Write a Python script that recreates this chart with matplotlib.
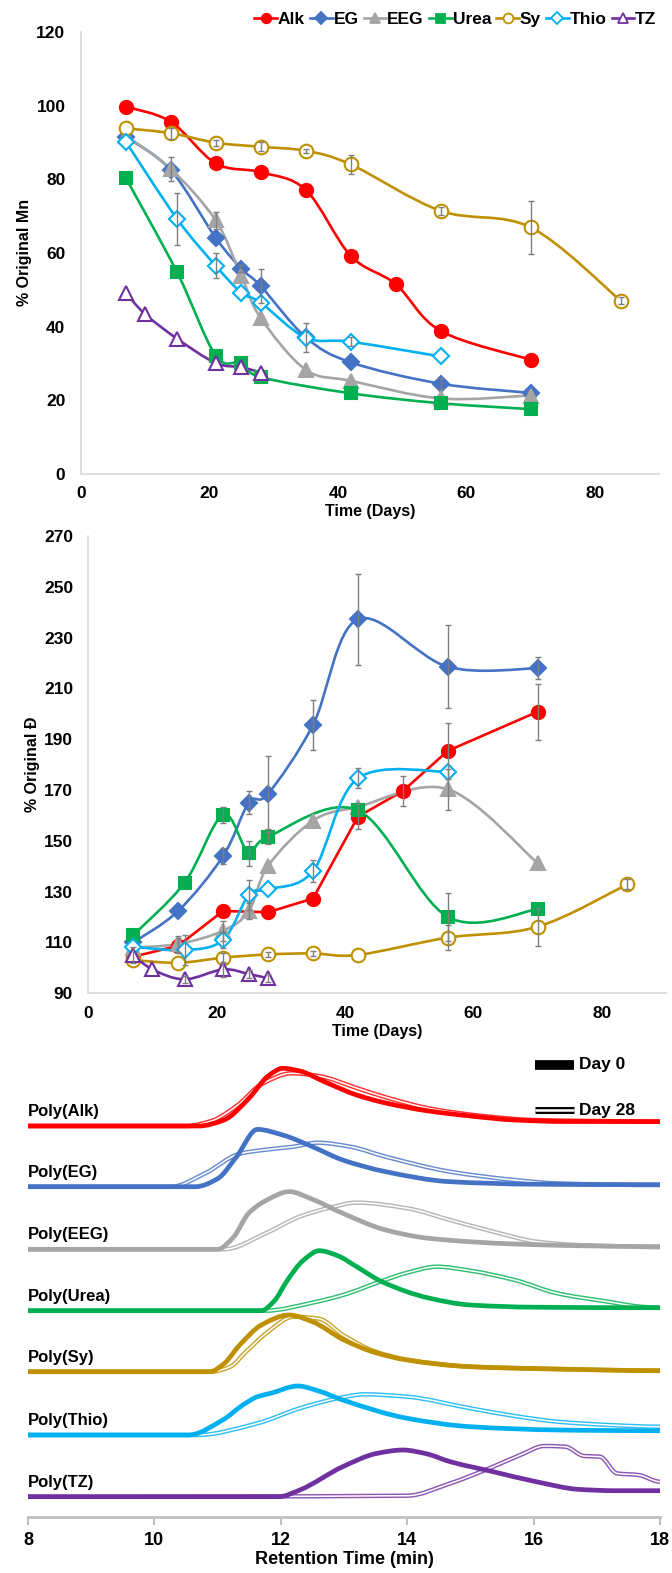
import matplotlib; matplotlib.use('Agg')
import matplotlib.pyplot as plt
from matplotlib.path import Path
from matplotlib.patches import PathPatch
from matplotlib.lines import Line2D
import numpy as np

plt.rcParams['font.family'] = ['Liberation Sans', 'DejaVu Sans']
plt.rcParams['font.weight'] = 'bold'

W, H = 672, 1573
NAMES  = ['Alk', 'EG', 'EEG', 'Urea', 'Sy', 'Thio', 'TZ']
COLORS = {'Alk':'#FF0000','EG':'#4472C4','EEG':'#A5A5A5','Urea':'#00B050',
          'Sy':'#BF9000','Thio':'#00B0F0','TZ':'#7030A0'}
# marker, size, filled
MARKERS = {'Alk':('o',9.5,True),'EG':('D',8,True),'EEG':('^',9.5,True),'Urea':('s',9,True),
           'Sy':('o',9.8,False),'Thio':('D',8,False),'TZ':('^',10,False)}

# ---- top panel: % original Mn ----
mn_days = {'Alk':[7,14,21,28,35,42,49,56,70], 'EG':[7,14,21,25,28,35,42,56,70],
           'EEG':[7,14,21,25,28,35,42,56,70], 'Urea':[7,15,21,25,28,42,56,70],
           'Sy':[7,14,21,28,35,42,56,70,84], 'Thio':[7,15,21,25,28,35,42,56],
           'TZ':[7,10,15,21,25,28]}
mn_vals = {'Alk':[99.7,95.6,84.3,81.9,77.1,59.2,51.5,38.8,31.0],
           'EG':[91.5,82.5,64.1,55.7,51.0,37.1,30.3,24.5,22.0],
           'EEG':[91.8,82.8,68.8,53.6,42.3,28.3,25.3,20.5,21.3],
           'Urea':[80.4,54.7,32.1,30.2,26.3,21.9,19.2,17.6],
           'Sy':[93.8,92.5,89.9,88.8,87.7,84.0,71.4,66.9,47.0],
           'Thio':[90.2,69.2,56.5,49.2,46.5,37.0,35.9,31.9],
           'TZ':[49.2,43.4,36.7,30.1,29.0,27.5]}
mn_err = {'Alk':[0]*9, 'EG':[0,0,0,1,4.7,0,0,1.5,0], 'EEG':[0,3.2,2.2,0,0,0,0,0,0],
          'Urea':[0]*8, 'Sy':[0,1.5,0.8,1.2,0.5,2.5,1,7.3,1],
          'Thio':[0,7.1,3.4,0,0,3.9,1.2,0], 'TZ':[0]*6}

# ---- middle panel: % original dispersity ----
d_days = {'Alk':[7,14,21,28,35,42,49,56,70], 'EG':[7,14,21,25,28,35,42,56,70],
          'EEG':[7,14,21,25,28,35,42,56,70], 'Urea':[7,15,21,25,28,42,56,70],
          'Sy':[7,14,21,28,35,42,56,70,84], 'Thio':[7,15,21,25,28,35,42,56],
          'TZ':[7,10,15,21,25,28]}
d_vals = {'Alk':[104.4,108.7,122.4,121.9,127.3,159.5,169.6,185.4,200.8],
          'EG':[110,122.4,144.0,165.0,168.5,195.6,237.2,218.5,217.9],
          'EEG':[108,109.4,114.6,122.4,140.1,157.9,163.4,170.3,141.2],
          'Urea':[112.9,133.5,160.2,145.1,151.6,162.0,120.1,123.1],
          'Sy':[103.1,102.0,104.0,105.3,105.7,105.1,111.9,116.2,132.9],
          'Thio':[108.3,107.0,111.0,128.7,130.9,138.1,174.6,177.2],
          'TZ':[105.1,99.4,95.5,99.4,97.6,95.9]}
d_err = {'Alk':[0,3,0,0,0,5,6,11,11], 'EG':[0,0,3,4.5,15,10,18,16.3,4.3],
         'EEG':[0,3,4,3,0,0,0,8,0], 'Urea':[0,0,3,5,3,0,9.5,0],
         'Sy':[0,0,2,1,1,0,5,7.5,2], 'Thio':[0,6,3,6,0,4.4,4,0],
         'TZ':[3,0,1.5,3,1.5,1.5]}
d_straight = ['Alk']

# ---- bottom panel: GPC traces (retention time, height above baseline) ----
POLY = ['Poly(Alk)','Poly(EG)','Poly(EEG)','Poly(Urea)','Poly(Sy)','Poly(Thio)','Poly(TZ)']
base_px = [1126, 1186.7, 1249.3, 1310.7, 1371.7, 1435, 1496.7]
d0_t = {'Alk':[8,10.7,11.1,11.5,11.8,12.03,12.3,12.7,13.2,13.66,14.34,15.0,15.7,16.5,17.3,18],
        'EG':[8,10.65,11.0,11.3,11.63,12.03,12.5,12.98,13.66,14.68,16.0,18],
        'EEG':[8,11.0,11.25,11.49,11.8,12.13,12.5,12.98,13.66,14.34,15.7,16.8,18],
        'Urea':[8,11.69,11.9,12.1,12.35,12.61,12.9,13.2,13.6,14.34,15.0,16.0,18],
        'Sy':[8,10.88,11.1,11.35,11.7,12.13,12.5,13.0,13.5,14.0,15.0,16.5,18],
        'Thio':[8,10.54,11.08,11.4,11.63,11.84,12.27,12.6,12.98,14.0,15.0,16.38,17.2,18],
        'TZ':[8,11.97,12.3,12.98,13.52,13.93,14.3,14.68,15.36,16.04,16.72,17.3,18]}
d0_h = {'Alk':[0,0,6,28,50,57.7,55,44,31,23,15,10,6,4.5,4.5,4.3],
        'EG':[0,0,8,30,57.3,51.7,40,26.7,15,5,2.5,2],
        'EEG':[0,0,12,36,50,57.7,50,36,19.3,11,5.3,3.5,2.7],
        'Urea':[0,0,10,30,50,60,55,44,29,12.7,5.7,3.5,3],
        'Sy':[0,0,8,26.7,47,56.7,50,31.7,19,11.7,5,2.5,1],
        'Thio':[0,0,15,30,38.3,41.7,49,44,35,16.7,8.3,5,4.5,4.3],
        'TZ':[0,0,6.7,30,43.3,46.7,43,35,25,15,7.3,6,6]}
d28_t = {'Alk':[8,10.5,10.9,11.3,11.7,12.17,12.6,13.2,13.7,14.4,15.2,16.0,17.0,18],
         'EG':[8,10.27,10.8,11.35,11.76,12.2,12.58,13.1,13.66,14.68,15.7,16.38,18],
         'EEG':[8,11.1,11.76,12.3,12.8,13.2,14.0,14.68,15.36,16.04,16.7,17.4,18],
         'Urea':[8,11.76,12.5,13.0,13.6,14.0,14.47,15.0,15.7,16.38,17.18,17.7,18],
         'Sy':[8,10.9,11.2,11.45,11.8,12.2,12.6,13.0,13.5,14.0,15.0,16.5,18],
         'Thio':[8,10.68,11.63,12.3,12.98,13.32,14.0,15.0,15.7,16.38,17.2,18],
         'TZ':[8,14.0,14.68,15.36,15.8,16.17,16.5,16.8,17.05,17.32,17.66,18]}
d28_h = {'Alk':[0,0,5,20,42,52.7,50,38,28,17,10,6,5,4.5],
         'EG':[0,0,13.3,33,37,40,44,40,30,15,6.7,3.3,1.7],
         'EEG':[0,0,16,32.7,42,46.7,41,29.3,17.7,7.7,4.3,3,2],
         'Urea':[0,0,8,16,29.7,38,44,40,30.7,17.3,9,4,3],
         'Sy':[0,0,5,20,40,55,53,36,20,12,5,2.5,1],
         'Thio':[0,0,11.7,26.7,37.7,40.7,38.3,26.7,19,13.3,10,8.3],
         'TZ':[0,1,13.3,30,42,50.7,50,40.7,40,23.3,21.7,15]}


def ax_rect(x0, x1, ytop, ybot):
    return [x0/W, 1-ybot/H, (x1-x0)/W, (ybot-ytop)/H]


def smooth_path(x, y):
    """Bezier path through the points (Excel-style smoothed line)."""
    p = np.column_stack([x, y]).astype(float)
    n = len(p)
    verts, codes = [p[0]], [Path.MOVETO]
    for i in range(n-1):
        p0 = p[i-1] if i > 0 else p[i]
        p3 = p[i+2] if i+2 < n else p[i+1]
        verts += [p[i] + (p[i+1]-p0)/6, p[i+1] - (p3-p[i])/6, p[i+1]]
        codes += [Path.CURVE4]*3
    return Path(verts, codes)


def trace_path(x, y):
    """Monotone cubic (pchip-type slopes) drawn as Bezier segments."""
    x = np.asarray(x, float); y = np.asarray(y, float)
    h = np.diff(x); d = np.diff(y)/h
    m = np.zeros(len(x))
    for i in range(1, len(x)-1):
        if d[i-1]*d[i] > 0:
            w1, w2 = 2*h[i]+h[i-1], h[i]+2*h[i-1]
            m[i] = (w1+w2)/(w1/d[i-1] + w2/d[i])
    verts, codes = [(x[0], y[0])], [Path.MOVETO]
    for i in range(len(x)-1):
        verts += [(x[i]+h[i]/3, y[i]+m[i]*h[i]/3),
                  (x[i+1]-h[i]/3, y[i+1]-m[i+1]*h[i]/3),
                  (x[i+1], y[i+1])]
        codes += [Path.CURVE4]*3
    return Path(verts, codes)


def style_time_axis(ax, ymin, ymax, ystep):
    ax.set_xlim(0, 90)
    ax.set_ylim(ymin, ymax)
    ax.set_xticks(range(0, 81, 20))
    ax.set_yticks(range(ymin, ymax+1, ystep))
    for s in ['top', 'right']:
        ax.spines[s].set_visible(False)
    for s in ['left', 'bottom']:
        ax.spines[s].set_color('#d9d9d9'); ax.spines[s].set_linewidth(1.2)
    ax.tick_params(length=0, labelsize=12.5)
    ax.tick_params(axis='y', pad=11)
    ax.tick_params(axis='x', pad=9)
    for lb in ax.get_xticklabels()+ax.get_yticklabels():
        lb.set_fontweight('bold')
    ax.set_xlabel('Time (Days)', fontsize=11.5, fontweight='bold', labelpad=2)


def draw_series(ax, days, vals, errs, straight=()):
    for nm in NAMES:
        c = COLORS[nm]; mk, ms, filled = MARKERS[nm]
        x, y = days[nm], vals[nm]
        if nm in straight:
            ax.plot(x, y, color=c, lw=1.9, zorder=2)
        else:
            ax.add_patch(PathPatch(smooth_path(x, y), fill=False, edgecolor=c, lw=1.9, zorder=2))
        ax.plot(x, y, ls='none', marker=mk, ms=ms, color=c,
                mfc=c if filled else 'white', mec=c, mew=1.5, zorder=3)
        e = np.array(errs[nm], float)
        m = e > 0
        if m.any():
            ax.errorbar(np.array(x)[m], np.array(y)[m], yerr=e[m], fmt='none',
                        ecolor='#7f7f7f', elinewidth=1, capsize=2.5, capthick=1, zorder=4)


fig = plt.figure(figsize=(W/100, H/100), dpi=100)

# top panel
ax1 = fig.add_axes(ax_rect(80.7, 659.4, 31.8, 474))
style_time_axis(ax1, 0, 120, 20)
draw_series(ax1, mn_days, mn_vals, mn_err)
ax1.set_ylabel('% Original Mn', fontsize=11.5, fontweight='bold', labelpad=3)

handles = []
for nm in NAMES:
    mk, ms, filled = MARKERS[nm]
    handles.append(Line2D([], [], color=COLORS[nm], lw=1.9, marker=mk, ms=ms*0.72,
                          mfc=COLORS[nm] if filled else 'white', mec=COLORS[nm], mew=1.3))
fig.legend(handles, NAMES, loc='center right', bbox_to_anchor=(1.0, 1-19/H), ncol=7,
           frameon=False, handlelength=1.3, handletextpad=0.05, columnspacing=0.3,
           prop={'weight':'bold', 'size':12.5})

# middle panel
ax2 = fig.add_axes(ax_rect(88.3, 666, 535.9, 993.3))
style_time_axis(ax2, 90, 270, 20)
draw_series(ax2, d_days, d_vals, d_err, straight=d_straight)
ax2.set_ylabel('% Original \u0110', fontsize=11.5, fontweight='bold', labelpad=3)

# bottom panel: GPC traces
ax3 = fig.add_axes(ax_rect(28, 660, 1045, 1517))
ax3.set_xlim(8, 18); ax3.set_ylim(0, 1517-1045)
for s in ['top', 'right', 'left']:
    ax3.spines[s].set_visible(False)
ax3.spines['bottom'].set_color('#bfbfbf'); ax3.spines['bottom'].set_linewidth(2)
ax3.set_yticks([])
ax3.set_xticks(range(8, 19, 2))
ax3.tick_params(axis='x', length=6, width=1.5, color='#bfbfbf', labelsize=13, pad=5)
for lb in ax3.get_xticklabels():
    lb.set_fontweight('bold')
ax3.set_xlabel('Retention Time (min)', fontsize=13, fontweight='bold', labelpad=1)

for nm, label, bp in zip(NAMES, POLY, base_px):
    c = COLORS[nm]; b = 1517 - bp
    p28 = trace_path(d28_t[nm], np.array(d28_h[nm]) + b)
    ax3.add_patch(PathPatch(p28, fill=False, edgecolor=c, lw=3.2, alpha=0.8, zorder=2))
    ax3.add_patch(PathPatch(p28, fill=False, edgecolor='white', lw=1.1, zorder=2.1))
    p0 = trace_path(d0_t[nm], np.array(d0_h[nm]) + b)
    ax3.add_patch(PathPatch(p0, fill=False, edgecolor=c, lw=3.4, zorder=3, capstyle='round'))
    ax3.text(8.0, b + 7, label, fontsize=12, fontweight='bold', ha='left', va='bottom')

# day legend
ax3.plot([16.03, 16.64], [1517-1065]*2, color='black', lw=7, solid_capstyle='butt')
ax3.plot([16.03, 16.64], [1517-1110]*2, color='black', lw=5, solid_capstyle='butt')
ax3.plot([16.03, 16.64], [1517-1110]*2, color='white', lw=1.8, solid_capstyle='butt')
ax3.text(16.72, 1517-1065, 'Day 0', fontsize=12.5, fontweight='bold', va='center')
ax3.text(16.72, 1517-1110, 'Day 28', fontsize=12.5, fontweight='bold', va='center')

fig.savefig('out.png', dpi=100)
